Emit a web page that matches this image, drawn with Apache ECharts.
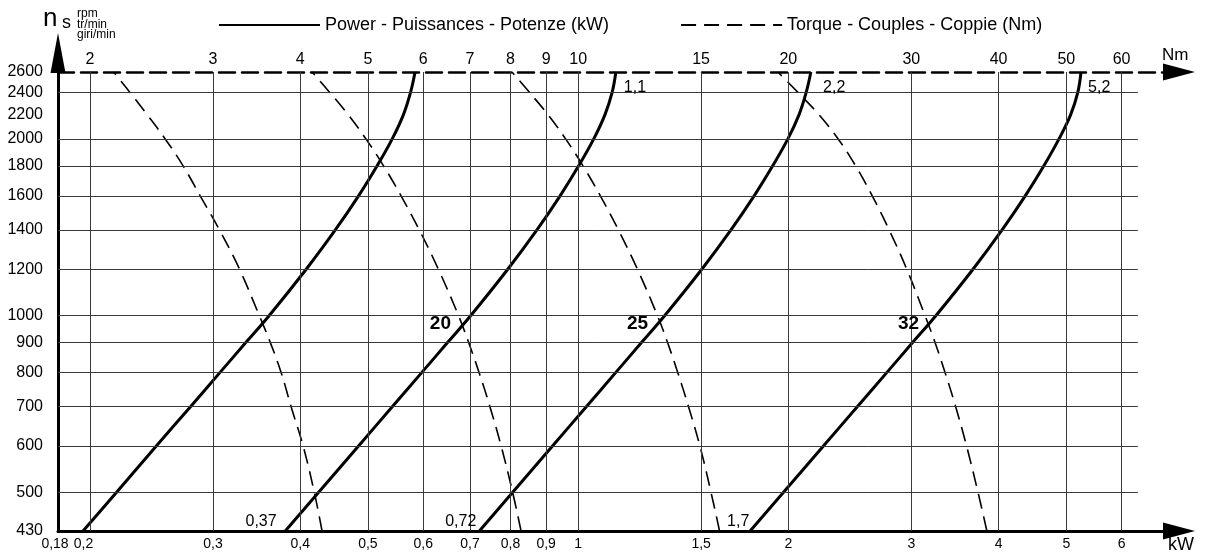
<!DOCTYPE html>
<html><head><meta charset="utf-8">
<script src="https://cdn.jsdelivr.net/npm/echarts@6/dist/echarts.min.js"></script>
<style>html,body{margin:0;padding:0;background:#fff}#c{width:1205px;height:555px}</style>
</head><body><div id="c"></div>
<script>
// ---- data ----
const rpm = [430, 500, 600, 700, 800, 900, 1000, 1200, 1400, 1600, 1800, 2000, 2200, 2400, 2600];
// power curves (kW) at each rpm level
const power1 = [0.1955, 0.2182, 0.2489, 0.2786, 0.3069, 0.3343, 0.3610, 0.4080, 0.4491, 0.4849, 0.5155, 0.5418, 0.5622, 0.5755, 0.5841];
const power2 = [0.3808, 0.4248, 0.4848, 0.5418, 0.5970, 0.6501, 0.7015, 0.7930, 0.8730, 0.9423, 1.0018, 1.0529, 1.0926, 1.1186, 1.1324];
const power3 = [0.7222, 0.8054, 0.9190, 1.0273, 1.1316, 1.2322, 1.3298, 1.5036, 1.6552, 1.7865, 1.8993, 1.9968, 2.0717, 2.1209, 2.1540];
const power4 = [1.763, 1.967, 2.245, 2.510, 2.766, 3.012, 3.252, 3.676, 4.046, 4.367, 4.644, 4.881, 5.073, 5.193, 5.248];
// torque curves (Nm) at each rpm level
const torque1 = [4.299, 4.191, 4.039, 3.882, 3.757, 3.625, 3.496, 3.275, 3.065, 2.876, 2.719, 2.563, 2.415, 2.282, 2.163];
const torque2 = [8.285, 8.059, 7.759, 7.477, 7.215, 6.971, 6.742, 6.308, 5.923, 5.578, 5.265, 4.968, 4.685, 4.409, 4.159];
const torque3 = [15.94, 15.50, 14.94, 14.39, 13.89, 13.43, 12.99, 12.16, 11.42, 10.76, 10.16, 9.596, 9.051, 8.520, 8.040];
const torque4 = [38.48, 37.38, 35.99, 34.72, 33.53, 32.44, 31.39, 29.55, 27.88, 26.37, 24.96, 23.57, 22.12, 20.64, 19.32];

const kwTicks = [0.18, 0.2, 0.3, 0.4, 0.5, 0.6, 0.7, 0.8, 0.9, 1, 1.5, 2, 3, 4, 5, 6];
const nmTicks = [2, 3, 4, 5, 6, 7, 8, 9, 10, 15, 20, 30, 40, 50, 60];
const rpmTicks = [430, 500, 600, 700, 800, 900, 1000, 1200, 1400, 1600, 1800, 2000, 2200, 2400, 2600];
const kwGridLines = [0.2, 0.3, 0.4, 0.5, 0.6, 0.7, 0.8, 0.9, 1, 1.5, 2, 3, 4, 5, 6];
const rpmGridLines = [500, 600, 700, 800, 900, 1000, 1200, 1400, 1600, 1800, 2000, 2400];
const kwRange = [0.18, 7.25];
const nmRange = [1.8, 72.5];
const rpmRange = [430, 2600];
const gridEndKw = 6.33;

// annotations
const noteText = ['0,37', '0,72', '1,7', '1,1', '2,2', '5,2'];
const noteKw = [0.3516, 0.679, 1.695, 1.206, 2.326, 5.573];
const noteRpm = [447, 447, 447, 2442, 2442, 2442];
const sizeText = ['20', '25', '32'];
const sizeKw = [0.635, 1.216, 2.972];
const sizeRpm = [968, 968, 968];

const POWER = 'Power - Puissances - Potenze (kW)';
const TORQUE = 'Torque - Couples - Coppie (Nm)';
const FONT = "'Liberation Sans', Arial, Helvetica, sans-serif";

// ---- helpers ----
const L = v => Math.log10(v);
const fmt = v => String(parseFloat(v.toPrecision(3))).replace('.', ',');

const powerSets = [power1, power2, power3, power4];
const torqueSets = [torque1, torque2, torque3, torque4];

const series = [];
series.push({
  type: 'line', name: 'grid', data: [], xAxisIndex: 0, yAxisIndex: 0, silent: true, z: 1,
  markLine: {
    silent: true, animation: false, symbol: ['none', 'none'], label: { show: false },
    emphasis: { disabled: true },
    lineStyle: { color: '#3a3a3a', width: 1, type: 'solid' },
    data: [
      ...kwGridLines.map(k => [{ coord: [L(k), L(rpmRange[0])] }, { coord: [L(k), L(rpmRange[1])] }]),
      ...rpmGridLines.map(r => [{ coord: [L(kwRange[0]), L(r)] }, { coord: [L(gridEndKw), L(r)] }])
    ]
  }
});
powerSets.forEach(p => series.push({
  type: 'line', name: POWER, xAxisIndex: 0, yAxisIndex: 0, z: 3, clip: false,
  data: rpm.map((r, i) => [L(p[i]), L(r)]),
  symbol: 'none', showSymbol: false, smooth: 0.4, color: '#000',
  lineStyle: { color: '#000', width: 3 }
}));
torqueSets.forEach(t => series.push({
  type: 'line', name: TORQUE, xAxisIndex: 1, yAxisIndex: 0, z: 3, clip: false,
  data: rpm.map((r, i) => [L(t[i]), L(r)]),
  symbol: 'none', showSymbol: false, smooth: 0.4, color: '#000',
  lineStyle: { color: '#000', width: 1.6, type: [15, 8] }
}));

const headerGraphics = [
  { type: 'text', x: 43, y: 19, style: { text: 'n', fontSize: 26, fontFamily: FONT, fill: '#000', verticalAlign: 'middle' } },
  { type: 'text', x: 62, y: 23, style: { text: 's', fontSize: 18, fontFamily: FONT, fill: '#000', verticalAlign: 'middle' } },
  { type: 'text', x: 77, y: 13.5, style: { text: 'rpm', fontSize: 12, fontFamily: FONT, fill: '#000', verticalAlign: 'middle' } },
  { type: 'text', x: 77, y: 25, style: { text: 'tr/min', fontSize: 12, fontFamily: FONT, fill: '#000', verticalAlign: 'middle' } },
  { type: 'text', x: 77, y: 34.5, style: { text: 'giri/min', fontSize: 12, fontFamily: FONT, fill: '#000', verticalAlign: 'middle' } }
];

const option = {
  animation: false,
  backgroundColor: '#fff',
  textStyle: { fontFamily: FONT },
  grid: { left: 58, right: 26, top: 72, bottom: 24 },
  legend: {
    data: [POWER, TORQUE], left: 213, top: 11, itemWidth: 101, itemHeight: 14, itemGap: 71,
    selectedMode: false,
    itemStyle: { opacity: 0 },
    textStyle: { fontSize: 18, color: '#000', fontFamily: FONT }
  },
  xAxis: [
    {
      type: 'value', position: 'bottom', min: L(kwRange[0]), max: L(kwRange[1]),
      splitLine: { show: false }, axisTick: { show: false },
      axisLine: { onZero: false, lineStyle: { color: '#000', width: 3 }, symbol: ['none', 'triangle'], symbolSize: [17, 32] },
      axisLabel: {
        customValues: kwTicks.map(L), color: '#000', fontSize: 14, margin: 6, fontFamily: FONT,
        formatter: v => {
          const s = fmt(Math.pow(10, v));
          if (s === '0,2') return '{b|' + s + '}';
          if (s === '0,18') return '{a|' + s + '}';
          return s;
        },
        rich: {
          a: { padding: [0, 6, 0, 0], fontSize: 14, color: '#000', fontFamily: FONT },
          b: { padding: [0, 13, 0, 0], fontSize: 14, color: '#000', fontFamily: FONT }
        }
      },
      name: 'kW', nameLocation: 'end', nameGap: -11,
      nameTextStyle: { color: '#000', fontSize: 18, fontFamily: FONT, align: 'left', verticalAlign: 'top', padding: [5, 0, 0, 0] }
    },
    {
      type: 'value', position: 'top', min: L(nmRange[0]), max: L(nmRange[1]),
      splitLine: { show: false }, axisTick: { show: false },
      axisLine: { onZero: false, lineStyle: { color: '#000', width: 2.5, type: [16, 7] }, symbol: ['none', 'triangle'], symbolSize: [17, 32] },
      axisLabel: {
        customValues: nmTicks.map(L), color: '#000', fontSize: 16, margin: 4, fontFamily: FONT,
        formatter: v => fmt(Math.pow(10, v))
      },
      name: 'Nm', nameLocation: 'end', nameGap: -17,
      nameTextStyle: { color: '#000', fontSize: 17, fontFamily: FONT, align: 'left', verticalAlign: 'bottom', padding: [0, 0, 8, 0] }
    }
  ],
  yAxis: {
    type: 'value', min: L(rpmRange[0]), max: L(rpmRange[1]),
    splitLine: { show: false }, axisTick: { show: false },
    axisLine: { onZero: false, lineStyle: { color: '#000', width: 3 }, symbol: ['none', 'triangle'], symbolSize: [15, 40], symbolOffset: [0, 19] },
    axisLabel: {
      customValues: rpmTicks.map(L), color: '#000', fontSize: 16, margin: 15, fontFamily: FONT,
      formatter: v => String(Math.round(Math.pow(10, v)))
    }
  },
  graphic: headerGraphics,
  series: series
};
const chart = echarts.init(document.getElementById('c'), null, { renderer: 'canvas' });
chart.setOption(option);

// text annotations placed through the chart's own coordinate system
const toPx = (kw, n) => chart.convertToPixel({ xAxisIndex: 0, yAxisIndex: 0 }, [L(kw), L(n)]);
const noteGraphics = [];
noteText.forEach((t, i) => {
  const p = toPx(noteKw[i], noteRpm[i]);
  noteGraphics.push({ type: 'text', x: p[0], y: p[1], z: 10, silent: true,
    style: { text: t, fontSize: 16, fontFamily: FONT, fill: '#000', align: 'center', verticalAlign: 'middle' } });
});
sizeText.forEach((t, i) => {
  const p = toPx(sizeKw[i], sizeRpm[i]);
  noteGraphics.push({ type: 'text', x: p[0], y: p[1], z: 10, silent: true,
    style: { text: t, fontSize: 19, fontWeight: 'bold', fontFamily: FONT, fill: '#000', align: 'center', verticalAlign: 'middle' } });
});
chart.setOption({ graphic: headerGraphics.concat(noteGraphics) });
</script>
</body></html>
